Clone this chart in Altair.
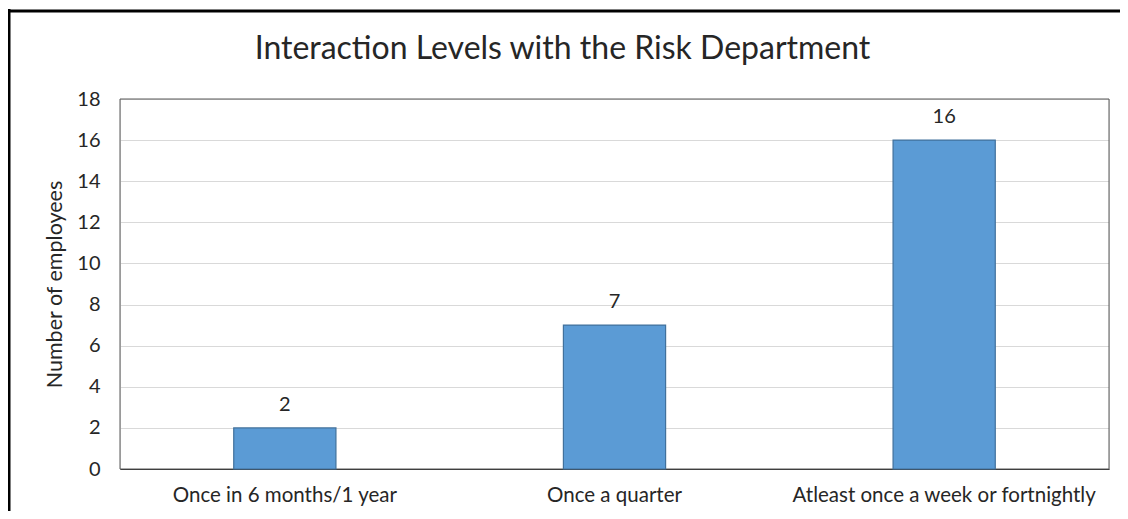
import altair as alt
import pandas as pd

categories = ["Once in 6 months/1 year", "Once a quarter", "Atleast once a week or fortnightly"]
values = [2, 7, 16]
y_ticks = [0, 2, 4, 6, 8, 10, 12, 14, 16, 18]
title_text = "Interaction Levels with the Risk Department"

df = pd.DataFrame({"category": categories, "employees": values})

W, H = 989, 370
FONT = "Lato"
TXT = "#262626"

base = alt.Chart(df)

x = alt.X(
    "category:N", sort=categories, title=None,
    scale=alt.Scale(paddingInner=0.69, paddingOuter=0.345),
    axis=alt.Axis(labelAngle=0, labelFontSize=20.5, labelFont=FONT, labelColor=TXT,
                  labelLimit=0, ticks=False, domain=True, domainColor="#262626",
                  domainWidth=1, labelPadding=16, grid=False),
)
y = alt.Y(
    "employees:Q", title="Number of employees",
    scale=alt.Scale(domain=[0, 18], nice=False),
    axis=alt.Axis(values=y_ticks, labelFontSize=20, labelFont=FONT, labelColor=TXT,
                  ticks=False, tickSize=0, domain=False, labelPadding=20,
                  grid=True, gridColor="#D9D9D9", gridWidth=1,
                  titleFont=FONT, titleFontSize=21.5, titleFontWeight="normal",
                  titleColor=TXT, titlePadding=10),
)

bars = base.mark_bar(color="#5B9BD5", stroke="#41719C", strokeWidth=1.2).encode(x=x, y=y)
labels = base.mark_text(dy=-17, baseline="alphabetic", fontSize=20, font=FONT, color=TXT).encode(
    x=alt.X("category:N", sort=categories), y=alt.Y("employees:Q"), text=alt.Text("employees:Q")
)

deco_df = pd.DataFrame({"k": [0]})
title = alt.Chart(deco_df).mark_text(
    text=title_text, fontSize=32, font=FONT, color=TXT, align="center", baseline="alphabetic"
).encode(x=alt.value(W / 2 - 52), y=alt.value(-40))
frame = alt.Chart(deco_df).mark_rect(filled=False, stroke="#595959", strokeWidth=1).encode(
    x=alt.value(0), x2=alt.value(W), y=alt.value(0), y2=alt.value(H)
)
left_border = alt.Chart(deco_df).mark_rule(color="black", strokeWidth=3).encode(
    x=alt.value(-111), y=alt.value(-90), y2=alt.value(H + 60)
)
top_border = alt.Chart(deco_df).mark_rule(color="black", strokeWidth=3).encode(
    x=alt.value(-113), x2=alt.value(W + 30), y=alt.value(-88)
)

chart = alt.layer(frame, bars, labels, title, left_border, top_border).properties(
    width=W, height=H,
    autosize=alt.AutoSizeParams(type="none"),
    padding={"left": 112, "top": 91, "right": 11, "bottom": 42},
).configure_view(stroke=None).configure(background="white")

chart.save("out.html", embed_options={"renderer": "svg", "actions": False})
